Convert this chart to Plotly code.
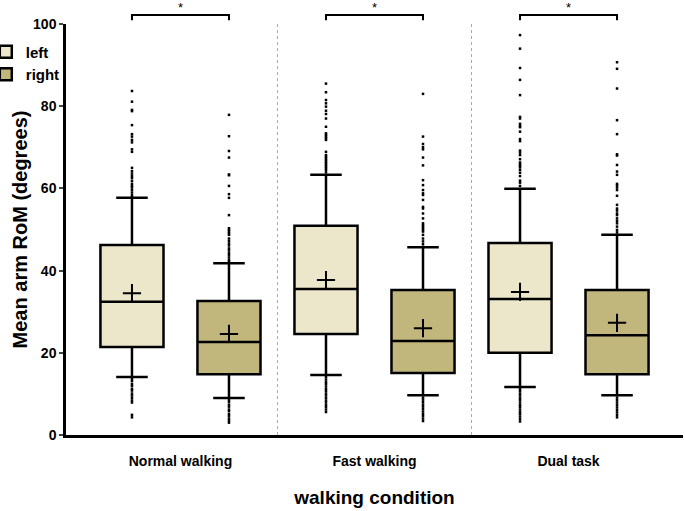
import plotly.graph_objects as go

conditions = ["Normal walking", "Fast walking", "Dual task"]
y_ticks = [0, 20, 40, 60, 80, 100]

left_q1 = [21.4, 24.6, 20.0]
left_median = [32.4, 35.5, 33.1]
left_q3 = [46.2, 50.9, 46.7]
left_low = [14.1, 14.6, 11.7]
left_high = [57.7, 63.3, 59.9]
left_mean = [34.5, 37.7, 34.8]

right_q1 = [14.8, 15.1, 14.8]
right_median = [22.6, 22.9, 24.3]
right_q3 = [32.6, 35.3, 35.3]
right_low = [9.0, 9.7, 9.7]
right_high = [41.8, 45.7, 48.7]
right_mean = [24.6, 26.0, 27.3]

left_outliers = [
    [83.7, 81.1, 79.1, 78.8, 75.4, 73.2, 72.6, 71.8, 71.2, 69.5, 68.9, 65.0, 64.2, 63.6, 63.0,
     62.5, 61.8, 61.1, 60.6, 60.2, 59.6, 59.0, 58.4, 57.9,
     13.6, 13.1, 12.4, 11.9, 11.2, 10.8, 10.1, 9.6, 9.0, 8.4, 7.9, 4.9, 4.3],
    [85.5, 83.4, 81.5, 80.7, 79.9, 78.9, 78.1, 77.0, 75.0, 73.4, 73.0, 72.6, 72.2, 71.8, 68.9,
     68.1, 67.7, 67.3, 66.9, 66.5, 66.1, 65.7, 65.3, 64.9, 64.5, 63.9,
     14.1, 13.5, 12.9, 12.4, 11.8, 11.2, 10.7, 10.1, 9.6, 9.0, 8.4, 7.9, 7.3, 6.8, 6.2, 5.6],
    [97.3, 94.0, 89.3, 86.4, 82.7, 77.4, 77.0, 75.7, 75.2, 74.9, 73.8, 72.0, 71.5, 69.2, 68.7,
     68.1, 67.1, 66.3, 65.9, 65.5, 65.1, 64.5, 63.8, 63.0, 61.9, 61.4, 60.6,
     11.2, 10.7, 10.1, 9.6, 9.0, 8.5, 7.9, 7.3, 6.8, 6.2, 5.6, 5.1, 4.5, 3.9, 3.3],
]
right_outliers = [
    [77.9, 72.7, 69.1, 67.5, 63.4, 63.2, 60.6, 58.6, 57.7, 53.5, 50.3, 49.9, 49.5, 49.1, 48.7,
     47.8, 47.2, 46.6, 46.1, 45.4, 44.9, 44.3, 43.8, 43.2, 42.6, 42.2,
     8.6, 8.1, 7.4, 6.9, 6.2, 5.8, 5.1, 4.6, 4.0, 3.5, 3.0],
    [83.0, 72.6, 70.8, 70.0, 69.5, 67.5, 65.6, 62.0, 60.8, 59.6, 58.8, 58.4, 57.2, 55.5, 55.1,
     53.9, 52.7, 51.5, 51.1, 50.7, 50.3, 49.9, 49.5, 48.7, 47.8, 47.1, 46.4,
     9.1, 8.6, 8.0, 7.4, 6.9, 6.3, 5.7, 5.1, 4.6, 4.0, 3.4],
    [90.7, 89.1, 84.3, 76.6, 73.2, 68.3, 68.0, 65.7, 64.1, 63.3, 61.1, 60.7, 60.2, 59.6, 58.2,
     56.0, 55.1, 54.6, 53.9, 53.5, 52.7, 52.1, 51.5, 50.7, 49.9, 49.3,
     9.1, 8.5, 7.9, 7.3, 6.7, 6.1, 5.5, 4.9, 4.3],
]

LEFT_COLOR = "#ECE6CA"
RIGHT_COLOR = "#C1B67C"
OFFSET = 0.25
BOX_W = 0.325
FONT = "Liberation Sans, Arial, sans-serif"

idx = list(range(len(conditions)))
fig = go.Figure()

for name, color, sign, q1, med, q3, lo, hi, mean, outs in [
    ("left", LEFT_COLOR, -1, left_q1, left_median, left_q3, left_low, left_high, left_mean, left_outliers),
    ("right", RIGHT_COLOR, 1, right_q1, right_median, right_q3, right_low, right_high, right_mean, right_outliers),
]:
    xs = [i + sign * OFFSET for i in idx]
    fig.add_trace(go.Box(
        name=name, x=xs, q1=q1, median=med, q3=q3, lowerfence=lo, upperfence=hi,
        width=BOX_W, whiskerwidth=0.5, fillcolor=color, legendgroup=name,
        line=dict(color="black", width=2.5), boxpoints=False, showlegend=True,
    ))
    ox, oy = [], []
    for xi, vals in zip(xs, outs):
        ox += [xi] * len(vals)
        oy += vals
    fig.add_trace(go.Scatter(
        x=ox, y=oy, mode="markers", showlegend=False,
        marker=dict(symbol="square", size=2.5, color="black"), cliponaxis=False,
    ))
    fig.add_trace(go.Scatter(
        x=xs, y=mean, mode="markers", showlegend=False,
        marker=dict(symbol="cross-thin", size=13, color="black",
                    line=dict(color="black", width=2)),
    ))

shapes = []
for i in [0.5, 1.5]:
    shapes.append(dict(type="line", xref="x", yref="paper", x0=i, x1=i, y0=0, y1=1,
                       line=dict(color="#AAAAAA", width=1, dash="dot"), layer="below"))
annotations = []
for i in idx:
    xa, xb = i - OFFSET, i + OFFSET
    shapes.append(dict(type="path", xref="x", yref="paper",
                       path=f"M {xa},1.009 L {xa},1.022 L {xb},1.022 L {xb},1.009",
                       line=dict(color="black", width=2)))
    annotations.append(dict(x=i, y=1.041, xref="x", yref="paper", text="*",
                            showarrow=False, yanchor="middle",
                            font=dict(family=FONT, size=13, color="black")))

fig.update_layout(
    width=685, height=511,
    margin=dict(l=66, r=2, t=24, b=76, autoexpand=False),
    paper_bgcolor="white", plot_bgcolor="white",
    font=dict(family=FONT, color="black"),
    showlegend=True,
    legend=dict(x=-0.13, y=0.972, xanchor="left", yanchor="top",
                font=dict(family=FONT, size=15, weight="bold"),
                bgcolor="rgba(0,0,0,0)", tracegroupgap=0),
    shapes=shapes, annotations=annotations,
    xaxis=dict(range=[-0.59, 2.59], tickvals=idx, ticktext=conditions,
               showline=True, linecolor="black", linewidth=2.5, ticks="",
               showgrid=False, zeroline=False, ticklabelstandoff=11,
               tickfont=dict(family=FONT, size=14, weight="bold"),
               title=dict(text="walking condition", standoff=24,
                          font=dict(family=FONT, size=19, weight="bold"))),
    yaxis=dict(range=[0, 100], tickvals=y_ticks, showline=True, linecolor="black",
               linewidth=2.5, ticks="outside", ticklen=4, tickwidth=2,
               showgrid=False, zeroline=False,
               tickfont=dict(family=FONT, size=14, weight="bold"),
               title=dict(text="Mean arm RoM (degrees)", standoff=1,
                          font=dict(family=FONT, size=20, weight="bold"))),
)

fig.write_html("out.html", config={"displayModeBar": False},
               post_script="document.body.style.margin='0px';")
